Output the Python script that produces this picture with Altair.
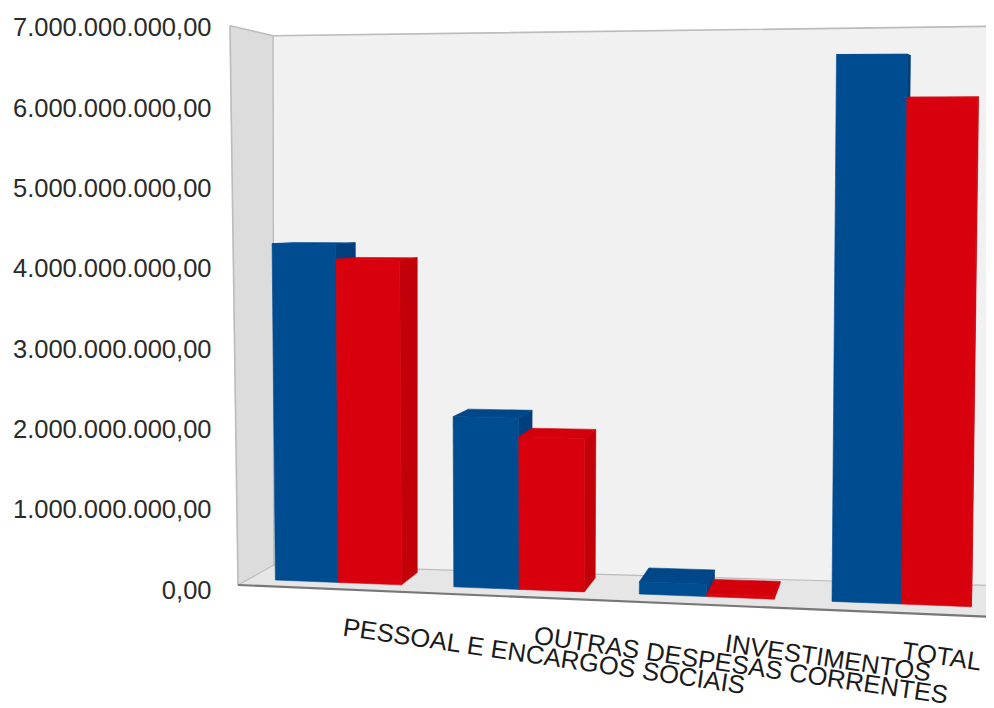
import altair as alt
import pandas as pd

# ---- values ----
categories = ["PESSOAL E ENCARGOS SOCIAIS", "OUTRAS DESPESAS CORRENTES", "INVESTIMENTOS", "TOTAL"]
series_a = [4.27e9, 2.13e9, 0.15e9, 6.64e9]
series_b = [4.08e9, 1.90e9, 0.03e9, 6.12e9]
tick_values = [0, 1e9, 2e9, 3e9, 4e9, 5e9, 6e9, 7e9]
tick_labels = ["0,00", "1.000.000.000,00", "2.000.000.000,00", "3.000.000.000,00",
               "4.000.000.000,00", "5.000.000.000,00", "6.000.000.000,00", "7.000.000.000,00"]

BLUE = ("#004c91", "#00478a", "#003f7e")   # front, top, side
RED = ("#d9000d", "#d3000c", "#c10009")


# ---- perspective model of the scene: (across, value, depth) -> picture ----
def floor_y(x):
    return 585 + (x - 238) * 32 / 756


def project(x, v, d):
    h = v / 1e9 * (79.9 + (x - 238) * 0.0066)
    y0 = floor_y(x) - h
    t = (x - 238) / 802
    dy = d * (-20 - 12 * t + (floor_y(x) - y0) * (0.0537 + 0.005 * t))
    dx = d * (36 - 0.047 * (x - 235)) * (1 + (585 - y0) * 0.00036)
    tilt = -0.013 + (x - 275) * 0.0203 / 557
    return x + h * tilt + dx, y0 + dy


def axis_units(py):
    return (590 - py) / 80.29 * 1e9


back, bars, edges = [], [], []
n = [0]


def poly(target, corners, fill):
    n[0] += 1
    for j, (x, v, d) in enumerate(corners):
        px, py = project(x, v, d)
        target.append({"poly": n[0], "seq": j, "px": px, "val": axis_units(py), "fill": fill})


def edge(corners, color, width):
    n[0] += 1
    for j, (x, v, d) in enumerate(corners):
        px, py = project(x, v, d)
        edges.append({"poly": n[0], "seq": j, "px": px, "val": axis_units(py), "col": color, "w": width})


L, R, TOP = 238, 1040, 7e9
poly(back, [(L, 0, 1), (L, TOP, 1), (R, TOP, 1), (R, 0, 1)], "#f1f1f1")
poly(back, [(L, 0, 0), (L, TOP, 0), (L, TOP, 1), (L, 0, 1)], "#dcdcdc")
poly(back, [(L, 0, 0), (L, 0, 1), (R, 0, 1), (R, 0, 0)], "#e6e6e6")

GREY = "#bcbcbc"
edge([(L, TOP, 0), (L, TOP, 1), (R, TOP, 1)], GREY, 1.6)
edge([(L, 0, 0), (L, TOP, 0)], GREY, 1.6)
edge([(L, 0, 1), (L, TOP, 1)], GREY, 1.4)
edge([(L, 0, 0), (L, 0, 1), (R, 0, 1)], GREY, 1.2)
edge([(L, 0, 0), (R, 0, 0)], "#777777", 2.2)

D0, D1 = 0.3, 0.85
for i in range(len(categories)):
    start = 265 + 177.4 * i + 3.6 * i * i
    width = 128 + 4.4 * i
    mid = start + width * 0.5
    for x0, x1, v, (front, top, side) in [(start, mid, series_a[i], BLUE),
                                          (mid, start + width, series_b[i], RED)]:
        poly(bars, [(x1, 0, D0), (x1, v, D0), (x1, v, D1), (x1, 0, D1)], side)
        poly(bars, [(x0, v, D0), (x0, v, D1), (x1, v, D1), (x1, v, D0)], top)
        poly(bars, [(x0, 0, D0), (x0, v, D0), (x1, v, D0), (x1, 0, D0)], front)

labels = []
for i, c in enumerate(categories):
    x = min(342 + 191 * i, 901)
    labels.append({"label": c, "px": x, "val": axis_units(floor_y(x) + 46)})

x_scale = alt.Scale(domain=[225, 986], nice=False, zero=False)
y_scale = alt.Scale(domain=[axis_units(708), axis_units(8)], nice=False, zero=False)
label_expr = "{" + ",".join(f"'{int(v)}':'{t}'" for v, t in zip(tick_values, tick_labels)) + "}[''+datum.value]"

x_enc = alt.X("px:Q", scale=x_scale, axis=None)
y_enc = alt.Y("val:Q", scale=y_scale, axis=alt.Axis(
    values=tick_values, labelExpr=label_expr, title=None, grid=False, domain=False, ticks=False,
    labelFont="Liberation Sans", labelFontSize=25.5, labelColor="#2a2a2a", labelPadding=14, labelLimit=0))

walls = alt.Chart(pd.DataFrame(back)).mark_line(interpolate="linear-closed", strokeWidth=0.6, clip=True).encode(
    x=x_enc, y=y_enc, detail="poly:N", order="seq:Q",
    fill=alt.Fill("fill:N", scale=None), stroke=alt.Stroke("fill:N", scale=None))

lines = alt.Chart(pd.DataFrame(edges)).mark_line(clip=True).encode(
    x=x_enc, y=y_enc, detail="poly:N", order="seq:Q",
    stroke=alt.Stroke("col:N", scale=None), strokeWidth=alt.StrokeWidth("w:Q", scale=None))

faces = alt.Chart(pd.DataFrame(bars)).mark_line(interpolate="linear-closed", strokeWidth=0.6, clip=True).encode(
    x=x_enc, y=y_enc, detail="poly:N", order="seq:Q",
    fill=alt.Fill("fill:N", scale=None), stroke=alt.Stroke("fill:N", scale=None))

texts = alt.Chart(pd.DataFrame(labels)).mark_text(
    align="left", baseline="alphabetic", angle=8.3, font="Liberation Sans", fontSize=25.5, color="#1a1a1a"
).encode(x=x_enc, y=y_enc, text="label:N")

chart = alt.layer(walls, lines, faces, texts).properties(
    width=761, height=700,
    autosize=alt.AutoSizeParams(type="none"),
    padding={"left": 217, "top": 0, "right": 0, "bottom": 0},
    background="white",
).configure_view(stroke=None)

chart.save("out.html", embed_options={"renderer": "svg", "actions": False})
